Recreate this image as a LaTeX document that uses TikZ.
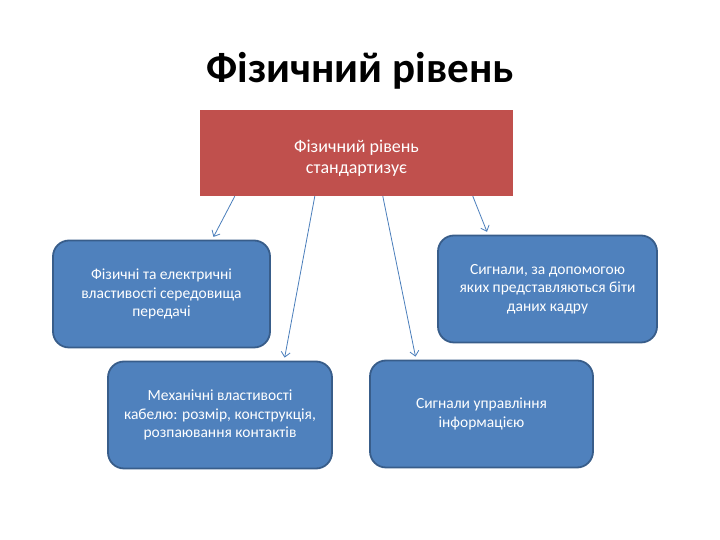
\documentclass[tikz,border=0pt]{standalone}
\usepackage{fontspec}
\setmainfont{Carlito}
\usetikzlibrary{
    positioning,
    arrows.meta
}
\definecolor{stdred}{HTML}{C0504D}
\definecolor{boxblue}{HTML}{4F81BD}
\definecolor{boxedge}{HTML}{385D8A}
\definecolor{arrblue}{HTML}{4A7EBB}
\tikzset{
    > = {Straight Barb[length=5pt, width=9pt]},
    stdbox/.style = {fill=stdred, draw=none, minimum width=313pt, minimum height=86pt},
    infobox/.style = {fill=boxblue, draw=boxedge, line width=1.8pt, rounded corners=16pt,
        text=white, align=center, font=\fontsize{15.5}{18.5}\selectfont,
        minimum height=107pt, inner sep=0pt},
    arr/.style = {->, draw=arrblue, line width=0.8pt, shorten >=3pt},
}

\begin{document}
\begin{tikzpicture}[x=1pt, y=1pt]
\fill[white] (0,0) rectangle (720,540);
\useasboundingbox (0,0) rectangle (720,540);

\node[anchor=base, font=\fontsize{43}{50}\selectfont\bfseries] (title) at (360,457) {Фізичний рівень};

\node[stdbox] (std) at (356.5,387) {};
\node[text=white, align=center, font=\fontsize{18}{21}\selectfont] (stdtext) at ([yshift=-5pt]std.center)
    {Фізичний рівень\\стандартизує};

\node[infobox, minimum width=217pt] (phys) at (161.5,246) {Фізичні та електричні\\властивості середовища\\передачі};
\node[infobox, minimum width=224pt] (mech) at (220,125) {Механічні властивості\\кабелю: розмір, конструкція,\\розпаювання контактів};
\node[infobox, minimum width=223pt] (ctrl) at (481.5,126) {Сигнали управління\\інформацією};
\node[infobox, minimum width=219pt] (sig) at (547.5,251) {Сигнали, за допомогою\\яких представляються біти\\даних кадру};

\draw[arr] ([xshift=35pt]std.south west) -- ([xshift=160pt]phys.north west);
\draw[arr] ([xshift=115pt]std.south west) -- ([xshift=177pt]mech.north west);
\draw[arr] ([xshift=183pt]std.south west) -- ([xshift=47pt]ctrl.north west);
\draw[arr] ([xshift=273pt]std.south west) -- ([xshift=51pt]sig.north west);
\end{tikzpicture}
\end{document}
